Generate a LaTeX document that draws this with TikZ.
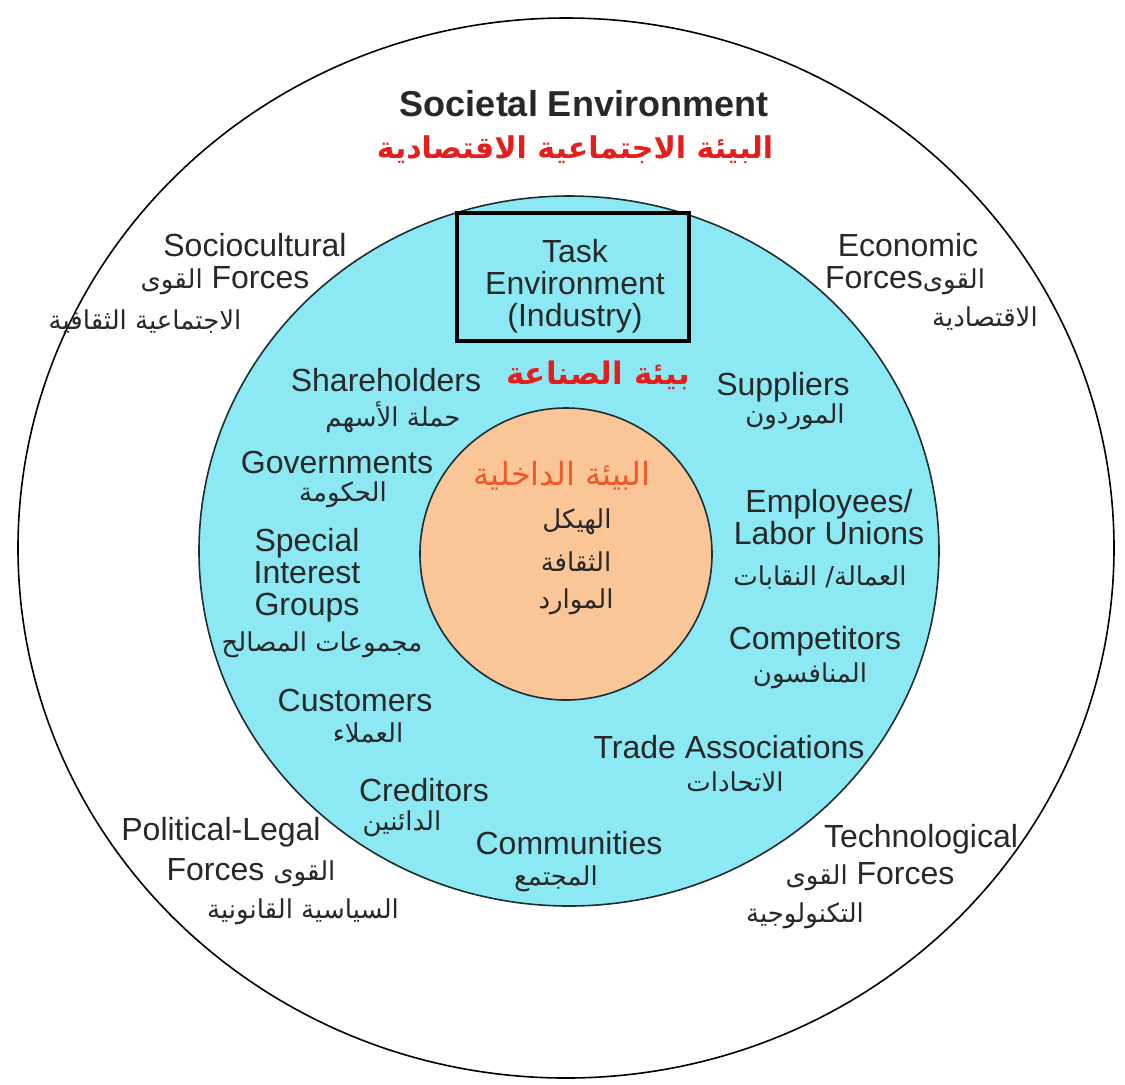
\documentclass[tikz,border=0pt]{standalone}
\usepackage{fontspec}
\setmainfont{Liberation Sans}
\newfontfamily\arabicfont[Script=Arabic]{DejaVu Sans}
\TeXXeTstate=1
\definecolor{ringcyan}{RGB}{140,233,243}
\definecolor{ringedge}{RGB}{30,45,50}
\definecolor{corepeach}{RGB}{250,198,152}
\definecolor{titlered}{RGB}{228,30,28}
\definecolor{coreorange}{RGB}{240,88,40}
\definecolor{inkgrey}{RGB}{40,40,40}
\newcommand{\artext}[1]{{\arabicfont\fontsize{13}{13}\selectfont\beginR#1\endR}}
\newcommand{\artitle}[1]{{\arabicfont\bfseries\fontsize{15}{15}\selectfont\beginR#1\endR}}

\begin{document}
\begin{tikzpicture}[x=0.5pt,y=-0.5pt,
        eng/.style={font=\fontsize{16}{16}\selectfont, text=inkgrey, inner sep=0pt},
        taskbox/.style={draw=black, line width=1.6pt, minimum width=116pt, minimum height=64pt, inner sep=0pt}]
                \useasboundingbox (0,0) rectangle (1125,1084);
                \coordinate (O) at (566,548);
                \coordinate (T) at (569,551);
                \coordinate (I) at (566,554);

                \draw[line width=0.8pt, fill=white] (O) ellipse [x radius=274pt, y radius=265pt];
                \draw[line width=0.8pt, draw=ringedge, fill=ringcyan] (T) ellipse [x radius=185pt, y radius=177.5pt];
                \draw[line width=0.8pt, draw=ringedge, fill=corepeach] (I) circle [radius=73pt];

                % societal environment
                \node [eng, font=\bfseries\fontsize{18}{18}\selectfont] (societal) at (584,104) {Societal Environment};
                \node [inner sep=0pt, text=titlered] (societalar) at (575,150) {\artitle{البيئة الاجتماعية الاقتصادية}};

                \node [eng] (socioA) at (255,245) {Sociocultural};
                \node [eng] (socioB) at (225,281) {\artext{القوى} Forces};
                \node [eng] (socioC) at (145,322) {\artext{الاجتماعية الثقافية}};

                \node [eng] (econA) at (908,245) {Economic};
                \node [eng] (econB) at (905,281) {Forces\artext{القوى}};
                \node [eng] (econC) at (985,319) {\artext{الاقتصادية}};

                \node [eng] (polA) at (221,832) {Political-Legal};
                \node [eng] (polB) at (251,873) {Forces \artext{القوى}};
                \node [eng] (polC) at (303,912) {\artext{السياسية القانونية}};

                \node [eng] (techA) at (921,839) {Technological};
                \node [eng] (techB) at (870,877) {\artext{القوى} Forces};
                \node [eng] (techC) at (805,916) {\artext{التكنولوجية}};

                % task environment
                \node [taskbox] (task) at (573,277) {};
                \node [eng, align=center] (tasktext) at (575,286) {Task\\Environment\\(Industry)};
                \node [inner sep=0pt, text=titlered, font=\fontsize{15.5}{15.5}\selectfont] (taskar) at (598,375) {{\arabicfont\bfseries\beginR بيئة الصناعة\endR}};

                \node [eng] (share) at (386,380) {Shareholders};
                \node [eng] (sharear) at (393,417) {\artext{حملة الأسهم}};
                \node [eng] (gov) at (337,462) {Governments};
                \node [eng] (govar) at (343,495) {\artext{الحكومة}};
                \node [eng, align=center] (special) at (307,575) {Special\\Interest\\Groups};
                \node [eng] (specialar) at (322,645) {\artext{مجموعات المصالح}};
                \node [eng] (cust) at (355,700) {Customers};
                \node [eng] (custar) at (368,733) {\artext{العملاء}};
                \node [eng] (cred) at (424,790) {Creditors};
                \node [eng] (credar) at (402,824) {\artext{الدائنين}};
                \node [eng] (comm) at (569,843) {Communities};
                \node [eng] (commar) at (556,879) {\artext{المجتمع}};
                \node [eng] (supp) at (783,387) {Suppliers};
                \node [eng] (suppar) at (795,417) {\artext{الموردون}};
                \node [eng, align=center] (empl) at (829,517) {Employees/\\Labor Unions};
                \node [eng] (emplar) at (820,578) {\artext{العمالة/ النقابات}};
                \node [eng] (comp) at (815,641) {Competitors};
                \node [eng] (compar) at (810,676) {\artext{المنافسون}};
                \node [eng] (trade) at (729,747) {Trade Associations};
                \node [eng] (tradear) at (735,782) {\artext{الاتحادات}};

                % internal environment
                \node [inner sep=0pt, text=coreorange, font=\arabicfont\fontsize{16}{16}\selectfont] (internal) at (562,476) {\beginR البيئة الداخلية\endR};
                \node [eng] (structure) at (577,522) {\artext{الهيكل}};
                \node [eng] (culture) at (576,562) {\artext{الثقافة}};
                \node [eng] (resources) at (576,602) {\artext{الموارد}};

                \end{tikzpicture}
\end{document}
